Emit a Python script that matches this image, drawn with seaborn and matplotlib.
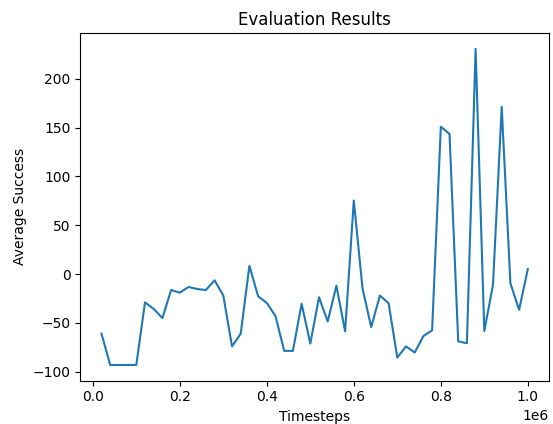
import numpy as np
import pandas as pd
import matplotlib
matplotlib.use("Agg")
import matplotlib.pyplot as plt
import seaborn as sns

timesteps = [20000 * (i + 1) for i in range(50)]
avg_success = [
    -61, -93, -93, -93, -93, -29, -35.6, -45, -16.3, -19,
    -13.2, -15.3, -16.3, -6.4, -22, -74, -61, 8.5, -22.7, -29.5,
    -43, -78.6, -78.6, -30.3, -71.2, -23.7, -48.5, -11.9, -58.6, 75.3,
    -14.6, -54.2, -22, -29.8, -85.4, -74, -80.3, -63.4, -57.6, 150.8,
    143.4, -68.8, -70.8, 230.5, -58.3, -10.8, 171.2, -9.5, -36.6, 5.1,
]

df = pd.DataFrame({"Timesteps": timesteps, "Average Success": avg_success})

fig, ax = plt.subplots(figsize=(5.53, 4.24), dpi=100)
sns.lineplot(data=df, x="Timesteps", y="Average Success", ax=ax)
ax.set_title("Evaluation Results")
ax.set_xlabel("Timesteps")
ax.set_ylabel("Average Success")
fig.subplots_adjust(left=0.145, right=0.993, top=0.922, bottom=0.102)
fig.savefig("out.png", dpi=100)
